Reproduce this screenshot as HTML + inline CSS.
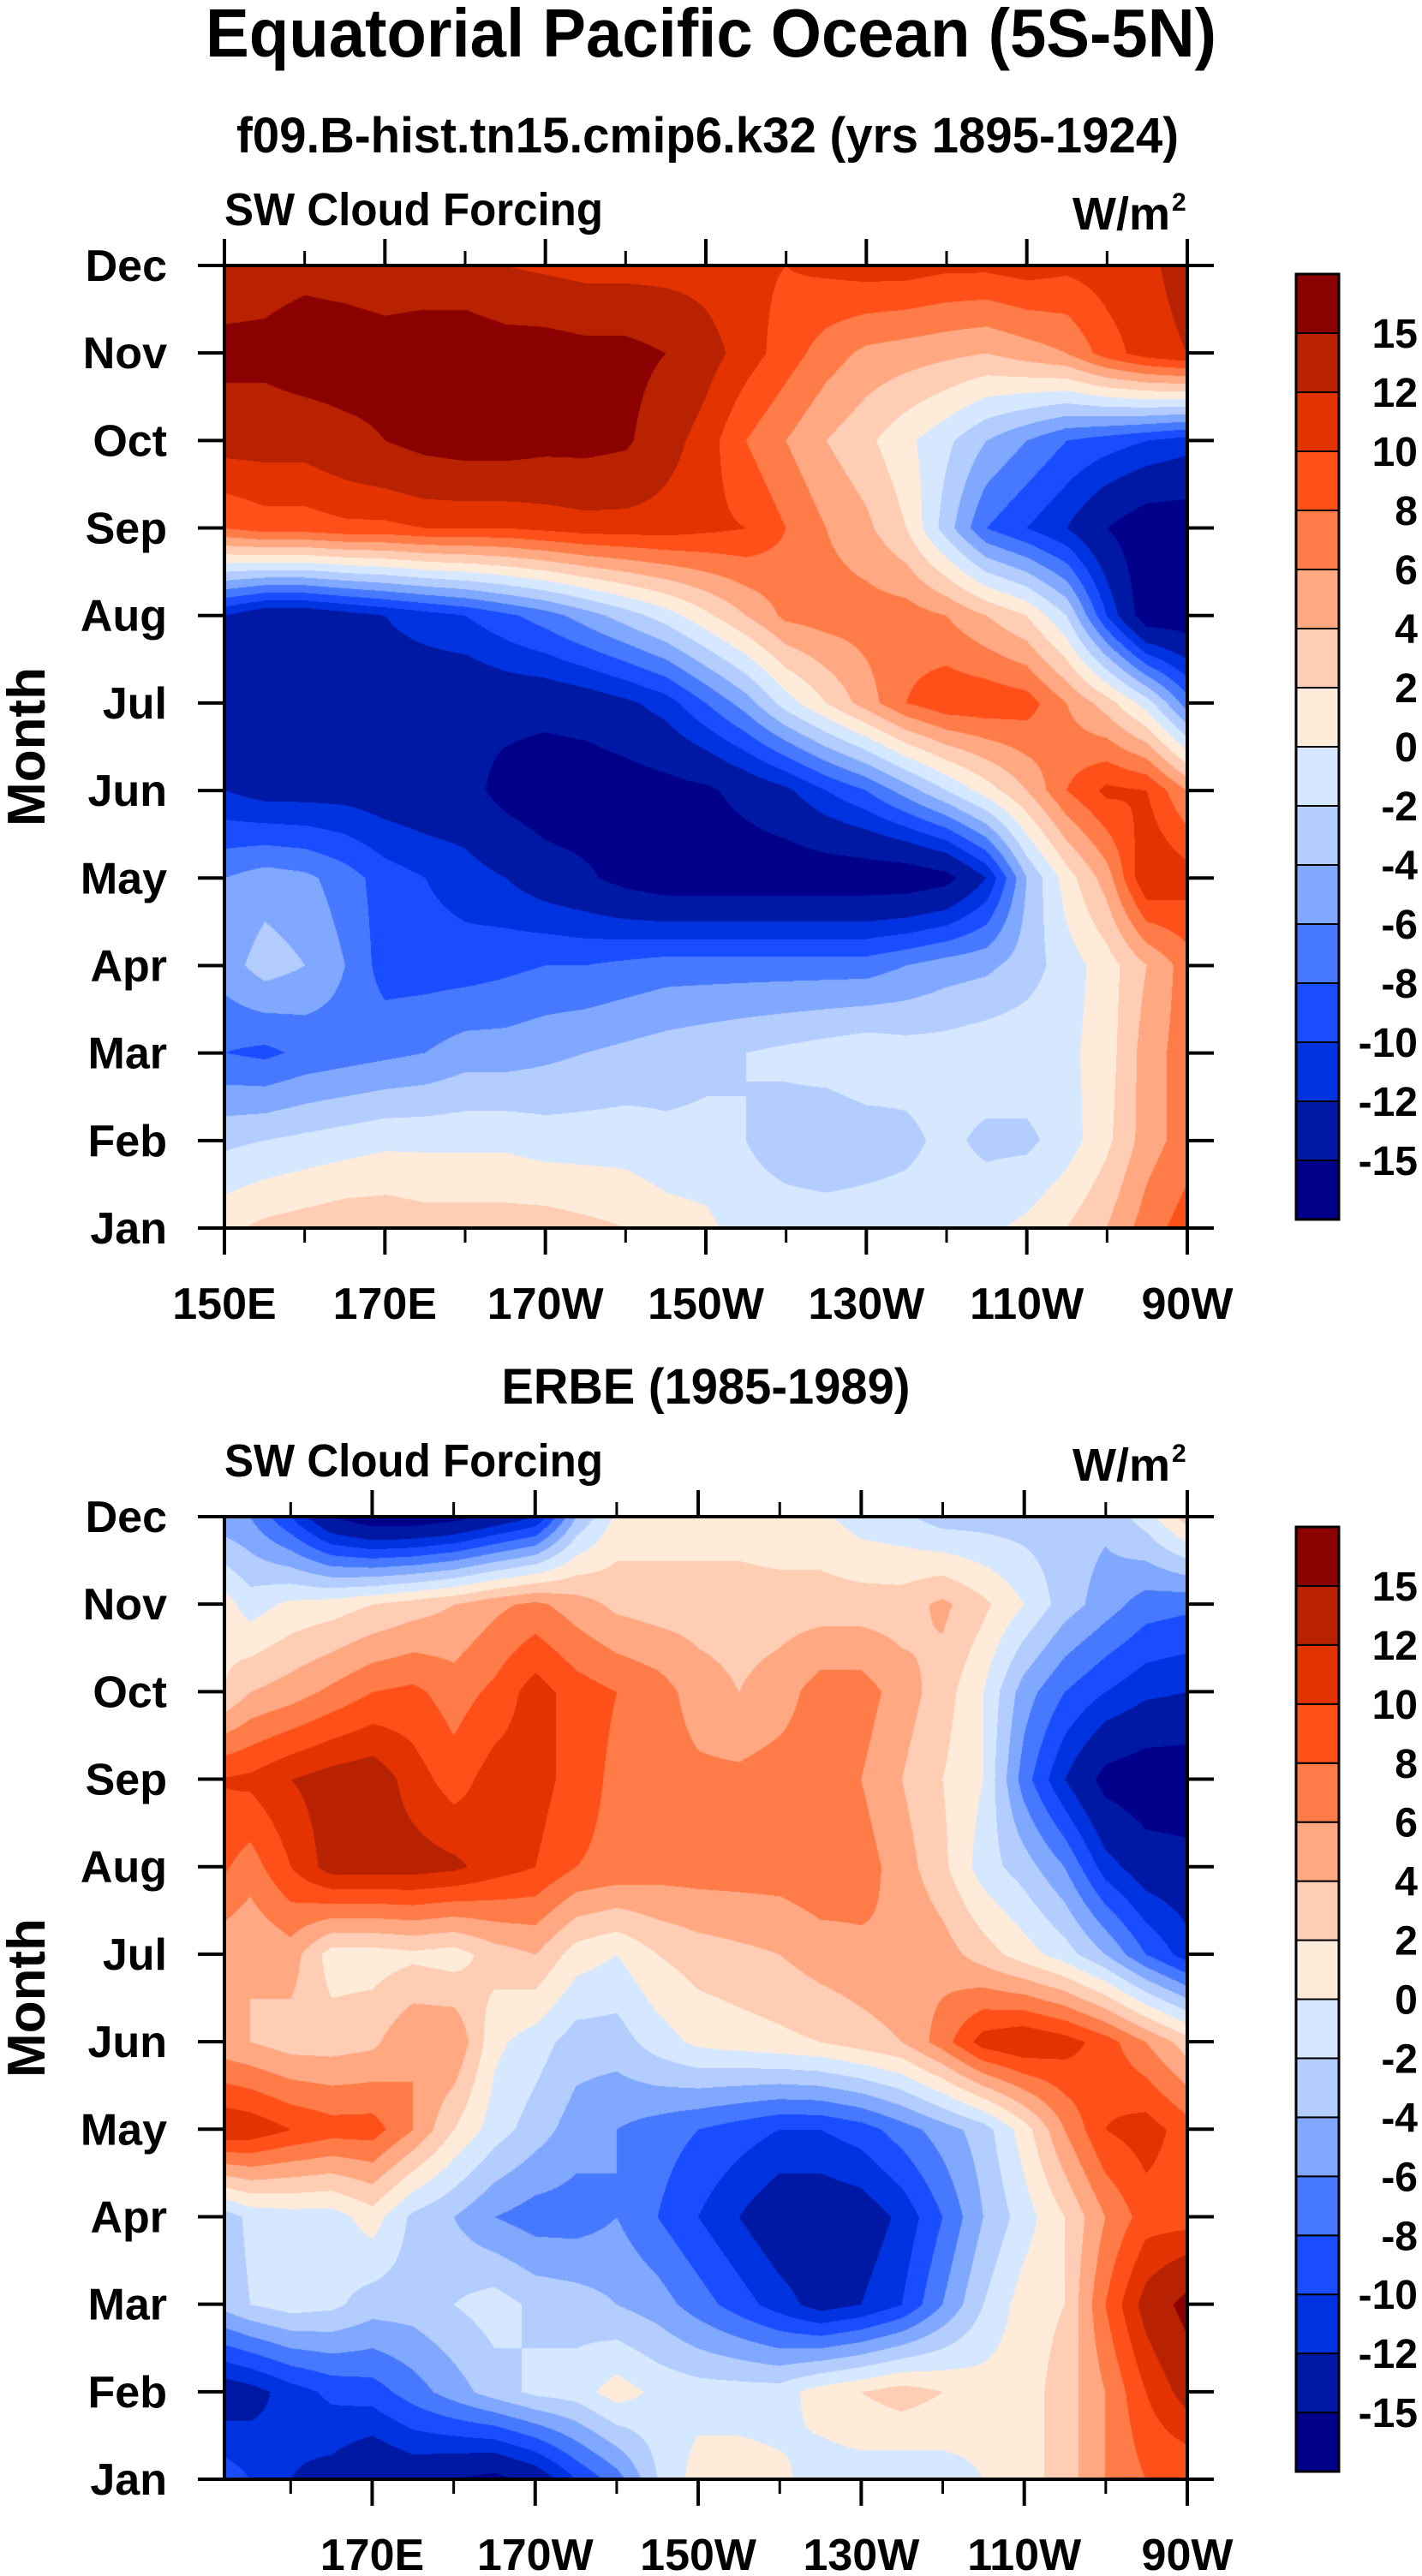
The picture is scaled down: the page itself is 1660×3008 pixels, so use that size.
<!DOCTYPE html>
<html><head><meta charset="utf-8">
<style>
html,body{margin:0;padding:0;background:#fff;}
#root{position:relative;width:1660px;height:3008px;overflow:hidden;background:#fff;}
canvas{position:absolute;}
svg{position:absolute;left:0;top:0;}
text{font-family:"Liberation Sans",sans-serif;font-weight:bold;fill:#000;}
</style></head>
<body>
<div id="root">
<canvas id="c1" width="1124" height="1124" style="left:262px;top:310px"></canvas>
<canvas id="c2" width="1124" height="1125" style="left:262px;top:1771px"></canvas>
<svg id="s" width="1660" height="3008"></svg>
</div>
<script>
const levels = [-15,-12,-10,-8,-6,-4,-2,0,2,4,6,8,10,12,15];
const colors = ["#00008a","#0019a4","#0033e0","#1a4dff","#4679ff","#80a8ff","#b3cdff","#d6e8ff","#ffebd9","#ffcdb4","#ffa882","#ff7b48","#ff5019","#e33300","#b82200","#8b0000"];
const months = ["Jan","Feb","Mar","Apr","May","Jun","Jul","Aug","Sep","Oct","Nov","Dec"];
const gridLons = [150,155,160,165,170,175,180,185,190,195,200,205,210,215,220,225,230,235,240,245,250,255,260,265,270];
// Model (rows Jan..Dec)
const modelJan = [1.5,2.5,3,3.5,3.5,3,3,3,3,2.5,2,1,0.5,-1,-1,-1,-1,-1,-1,-0.5,0.5,2,4,7,9];
const modelFeb = [-2.5,-2,-1.5,-1,-0.5,-0.5,-0.5,-0.5,-1,-1,-1,-1.5,-1.5,-2,-3,-3.5,-3,-2.5,-1.5,-2.5,-2.5,-1,1.5,5,7];
const modelMar = [-8,-8.5,-7.5,-7,-6.5,-6,-5,-5,-4.5,-4,-3.5,-3,-2.5,-2,-1.5,-1,-0.5,-1,-1,-0.5,-0.5,-0.5,1,5,7];
const modelApr = [-5,-3,-4,-6,-9,-9,-9,-8.5,-8,-8,-7.5,-7,-7,-7,-7,-7,-7,-6,-5,-4.5,-3,-1,1,4,7];
const modelMay = [-6,-5,-5.5,-7,-9,-10,-11,-12,-13.5,-14.5,-16,-17,-17,-17,-17,-17,-17,-17,-16,-12,-4,1,5,12,11];
const modelJun = [-12,-13,-13,-13,-13.5,-14,-14,-16,-17,-17,-16.5,-16,-15.5,-14,-12.5,-10,-8,-5,-2,1,4,8,10.5,10,6];
const modelJul = [-13,-13.5,-14,-13,-13.5,-14,-14.5,-14,-14,-13.5,-12.5,-11,-8,-5,-1,2,5,8,9.5,9.5,9,6,3,-1,-7];
const modelAug = [-12,-14,-14,-13,-12,-11,-10,-8.5,-7,-5,-3,-1,1.5,4,6.5,7,7,7,6,4,2,-2,-10,-17,-17];
const modelSep = [8,9,9,9.5,9.5,10,10,10,10.5,11,11,11,10.5,10,8,6,4.5,2,-3,-8,-10,-12,-15,-17,-17];
const modelOct = [13,13,13,14,15,16,16.5,16.5,16,16,15.5,13,11,8,6,4,2.5,0.5,-1.5,-4,-6,-8,-9,-10,-11];
const modelNov = [16,16,17,17,16.5,17,17,16.5,16.5,16,16,15,13,11,9,7,5.5,5,4.5,4,5,6,9,11,12];
const modelDec = [13,13.5,14,13.5,13,13,13,12,11.5,11,11,11,11,10.5,10,10.5,11,11,10.5,10.5,11,10.5,11,11.5,13];
// ERBE
const erbeJan = [-8,-10,-12,-13,-15,-14,-15,-16,-14,-10,-7,-2,1,1,0.5,-1,-1,-1.5,-1,0,1,3,6,8,8];
const erbeFeb = [-14,-13,-11,-9.5,-9,-7,-5,-3,-1.5,-1,1,-0.5,-1,-1,-1,1,2,3,2,1,1,3,6,10,13];
const erbeMar = [-4,-2,-1,-1.5,-3,-3,-2,-1,-2.5,-3,-4,-5,-7,-9,-11,-13,-12,-10,-6,-2,1,2,8,13,16];
const erbeApr = [-4,-1.5,-1,-1,1,-2.5,-4,-6,-7,-7,-6,-8,-10,-12,-14,-14,-13.5,-11.5,-8,-4,-1,2,6,9,9];
const erbeMay = [12,11.5,10,9,9,6,2,-1,-3,-5,-6,-7,-8,-9,-10,-10,-9,-7,-5,-3,1,6,10,11,9];
const erbeJun = [5,4,3,3,3.5,6,6,0.5,-1,-3,-3,-1,0.5,1,1.5,2,3,4,7,11,12,11,9,6,3];
const erbeJul = [5,4,5,1,1,1.5,1,3,4,1,0,2,3,3.5,4,5,5.5,6,5,3,1,-1,-4,-8,-11];
const erbeAug = [9,7,10,13,13,13,12.5,11,10,8,7.5,7,7,7,7,7.5,7,5,2.5,-1,-3,-6,-11,-13.5,-14];
const erbeSep = [10,10.5,12,13,13.5,11,9,11,11,9,7.5,7,6.5,6.5,7,7,6,4,2,0,-7,-12,-16,-17,-17];
const erbeOct = [1,4,5,6.5,8,8.5,7,8.5,11,9,8,7,5,4,5,7,7,5,3,0,-5,-8,-10,-11.5,-12];
const erbeNov = [2,-1,0.5,1,2,3,4,5.5,6.5,5,3.5,3,3,3,3,3,3,3,4.5,2.5,0,-3,-5,-7,-7.5];
const erbeDec = [-5,-6,-10,-15,-17,-17,-16,-14,-12,-4,0.5,1,1,1,0.5,0.5,-1,-1.5,-3,-3,-3,-3,-3.5,-1,3];
const modelRows = [modelJan,modelFeb,modelMar,modelApr,modelMay,modelJun,modelJul,modelAug,modelSep,modelOct,modelNov,modelDec];
const erbeRows = [erbeJan,erbeFeb,erbeMar,erbeApr,erbeMay,erbeJun,erbeJul,erbeAug,erbeSep,erbeOct,erbeNov,erbeDec];
const topTickLabels = ["150E","170E","170W","150W","130W","110W","90W"];
const topTickLons = [150,170,190,210,230,250,270];
const botTickLabels = ["170E","170W","150W","130W","110W","90W"];
const botTickLons = [170,190,210,230,250,270];
const cbarLabels = ["-15","-12","-10","-8","-6","-4","-2","0","2","4","6","8","10","12","15"];

function sample(rows,lon,m){
  let fx=(lon-gridLons[0])/5; fx=Math.max(0,Math.min(gridLons.length-1.0001,fx));
  let fy=Math.max(0,Math.min(10.9999,m));
  const i=Math.floor(fx),j=Math.floor(fy),tx=fx-i,ty=fy-j;
  const a=rows[j][i],b=rows[j][i+1],c=rows[j+1][i],d=rows[j+1][i+1];
  return (a*(1-tx)+b*tx)*(1-ty)+(c*(1-tx)+d*tx)*ty;
}
function hex(c){return [parseInt(c.slice(1,3),16),parseInt(c.slice(3,5),16),parseInt(c.slice(5,7),16)];}
const rgb=colors.map(hex);
function drawField(id,rows,lon0,lon1){
  const cv=document.getElementById(id),ctx=cv.getContext('2d');
  const W=cv.width,H=cv.height,img=ctx.createImageData(W,H);
  for(let y=0;y<H;y++){const m=11*(1-y/(H-1));
    for(let x=0;x<W;x++){const lon=lon0+(lon1-lon0)*x/(W-1);
      const v=sample(rows,lon,m);let k=0;while(k<levels.length&&v>=levels[k])k++;
      const p=(y*W+x)*4,c=rgb[k];img.data[p]=c[0];img.data[p+1]=c[1];img.data[p+2]=c[2];img.data[p+3]=255;}}
  ctx.putImageData(img,0,0);
}
drawField('c1',modelRows,150,270);
drawField('c2',erbeRows,151.875,270);

const NS="http://www.w3.org/2000/svg", svg=document.getElementById('s');
function el(tag,attrs,parent){const e=document.createElementNS(NS,tag);for(const k in attrs)e.setAttribute(k,attrs[k]);(parent||svg).appendChild(e);return e;}
function txt(str,attrs,name){const t=el('text',attrs);t.textContent=str;


return t;}

txt("Equatorial Pacific Ocean (5S-5N)",{x:830,y:66,'font-size':80,'text-anchor':'middle',textLength:1180,lengthAdjust:'spacingAndGlyphs'},'main-title');
txt("f09.B-hist.tn15.cmip6.k32 (yrs 1895-1924)",{x:826,y:178,'font-size':58,'text-anchor':'middle',textLength:1100,lengthAdjust:'spacingAndGlyphs'},'model-subtitle');
txt("ERBE (1985-1989)",{x:824,y:1639,'font-size':58,'text-anchor':'middle',textLength:477,lengthAdjust:'spacingAndGlyphs'},'erbe-subtitle');

function panel(top,lon0,lon1,tickLons,tickLabels,minorLons,cbTop,cbBot,prefix){
  const L=262,R=1386,B=top+1124,xs=lon=>L+(lon-lon0)/(lon1-lon0)*(R-L);
  const g=el('g',{});
  
  
  txt("SW Cloud Forcing",{x:262,y:top-47,'font-size':54,textLength:442,lengthAdjust:'spacingAndGlyphs'},prefix+'-variable-label');
  txt("W/m",{x:1366,y:top-42,'font-size':54,'text-anchor':'end'},prefix+'-units-label');
  txt("2",{x:1368,y:top-64,'font-size':30},prefix+'-units-superscript');
  el('rect',{x:L,y:top,width:R-L,height:B-top,fill:'none',stroke:'#000','stroke-width':4},g);
  tickLons.forEach((lon,i)=>{const x=xs(lon);
    el('line',{x1:x,y1:top,x2:x,y2:top-31,stroke:'#000','stroke-width':4},g);
    el('line',{x1:x,y1:B,x2:x,y2:B+31,stroke:'#000','stroke-width':4},g);
    txt(tickLabels[i],{x:x,y:B+106,'font-size':52,'text-anchor':'middle'},prefix+'-x-tick-label');});
  minorLons.forEach(lon=>{const x=xs(lon);
    el('line',{x1:x,y1:top,x2:x,y2:top-17,stroke:'#000','stroke-width':3},g);
    el('line',{x1:x,y1:B,x2:x,y2:B+17,stroke:'#000','stroke-width':3},g);});
  months.forEach((m,i)=>{const y=B-(B-top)*i/11;
    el('line',{x1:L,y1:y,x2:L-31,y2:y,stroke:'#000','stroke-width':4},g);
    el('line',{x1:R,y1:y,x2:R+31,y2:y,stroke:'#000','stroke-width':4},g);
    txt(m,{x:195,y:y+18,'font-size':52,'text-anchor':'end'},prefix+'-month-label');});
  txt("Month",{x:0,y:0,'font-size':62,'text-anchor':'middle',transform:`translate(52,${(top+B)/2}) rotate(-90)`},prefix+'-y-axis-title');
  const h=(cbBot-cbTop)/colors.length;
  colors.forEach((c,k)=>{const r=el('rect',{x:1513,y:cbBot-(k+1)*h,width:50,height:h,fill:c,stroke:'#000','stroke-width':2});
    
    });
  el('rect',{x:1513,y:cbTop,width:50,height:cbBot-cbTop,fill:'none',stroke:'#000','stroke-width':3});
  cbarLabels.forEach((s,k)=>{txt(s,{x:1655,y:cbBot-(k+1)*h+17,'font-size':48,'text-anchor':'end'},prefix+'-colorbar-label');});
}
panel(310,150,270,topTickLons,topTickLabels,[160,180,200,220,240,260],320,1424,'model');
panel(1771,151.875,270,botTickLons,botTickLabels,[160,180,200,220,240,260],1783,2886,'erbe');
</script>
</body></html>
